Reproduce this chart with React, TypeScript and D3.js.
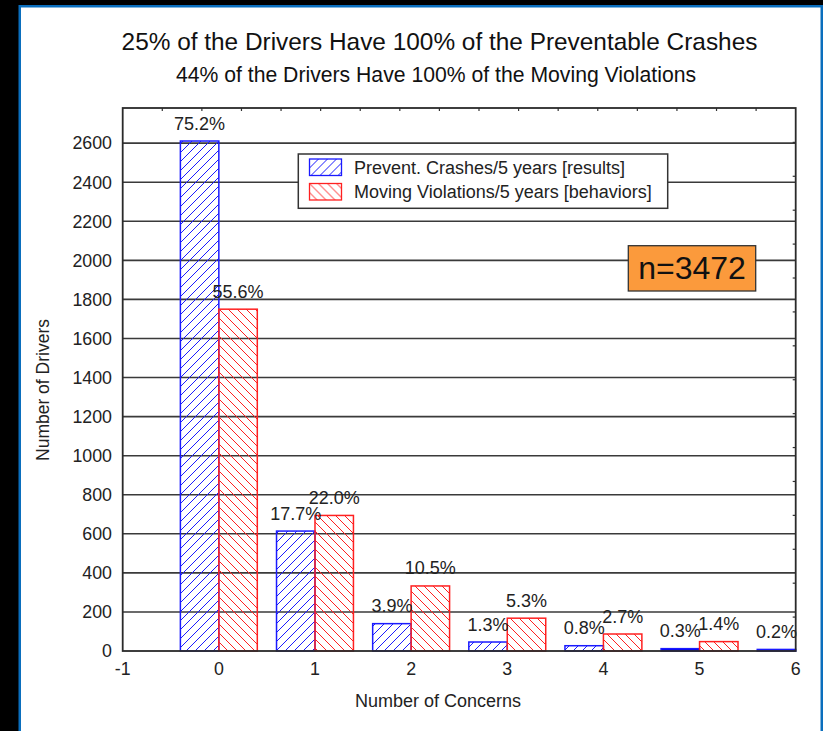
import React, { useEffect, useRef } from 'react';
import * as d3 from 'd3';

// data
const concerns = [0, 1, 2, 3, 4, 5, 6];
const crashCounts = [2611, 614, 140, 46, 27, 12, 8];
const crashPct = ['75.2%', '17.7%', '3.9%', '1.3%', '0.8%', '0.3%', '0.2%'];
const violationCounts = [1750, 694, 333, 168, 87, 48];
const violationPct = ['55.6%', '22.0%', '10.5%', '5.3%', '2.7%', '1.4%'];
const yTicks = [0, 200, 400, 600, 800, 1000, 1200, 1400, 1600, 1800, 2000, 2200, 2400, 2600];
const xTicks = [-1, 0, 1, 2, 3, 4, 5, 6];
const seriesNames = ['Prevent. Crashes/5 years [results]', 'Moving Violations/5 years [behaviors]'];
const totalDrivers = 3472;

const FONT = '"Liberation Sans", Arial, sans-serif';

const App = () => {
  const chartRef = useRef<SVGSVGElement>(null);

  useEffect(() => {
    const svg = d3.select(chartRef.current);
    svg.selectAll('*').remove();

    const W = 823;
    const H = 731;
    const left = 122.7;
    const right = 795.7;
    const top = 108;
    const bottom = 651;
    const barW = 0.4;

    // frame: black strip + blue border
    svg.append('rect').attr('width', W).attr('height', H).attr('fill', '#000');
    svg.append('rect').attr('x', 18.5).attr('y', 5).attr('width', W - 18.5).attr('height', H - 5).attr('fill', '#0a6ebd');
    svg.append('rect').attr('x', 21).attr('y', 7.5).attr('width', 799.5).attr('height', H - 7.5).attr('fill', '#fff');

    const defs = svg.append('defs');
    const hatch = (id: string, color: string, d: string) => {
      defs
        .append('pattern')
        .attr('id', id)
        .attr('patternUnits', 'userSpaceOnUse')
        .attr('width', 9)
        .attr('height', 9)
        .append('path')
        .attr('d', d)
        .attr('stroke', color)
        .attr('stroke-width', 1);
    };
    hatch('hatchBlue', '#1a1aff', 'M0,9 L9,0 M-1,1 L1,-1 M8,10 L10,8');
    hatch('hatchRed', '#ff2020', 'M0,0 L9,9 M-1,8 L1,10 M8,-1 L10,1');

    const x = d3.scaleLinear().domain([-1, 6]).range([left, right]);
    const y = d3.scaleLinear().domain([0, 2780]).range([bottom, top]);
    const pct = d3.scaleLinear().domain([0, (2780 / totalDrivers) * 100]).range([bottom, top]);
    const topScale = d3.scaleLinear().domain([0, 17]).range([left, right]);

    // titles
    svg
      .append('text')
      .attr('x', 439.5)
      .attr('y', 50)
      .attr('text-anchor', 'middle')
      .attr('font-family', FONT)
      .attr('font-size', 24.4)
      .attr('fill', '#111')
      .text('25% of the Drivers Have 100% of the Preventable Crashes');
    svg
      .append('text')
      .attr('x', 436)
      .attr('y', 81.5)
      .attr('text-anchor', 'middle')
      .attr('font-family', FONT)
      .attr('font-size', 21.2)
      .attr('fill', '#111')
      .text('44% of the Drivers Have 100% of the Moving Violations');

    // grid lines
    svg
      .append('g')
      .selectAll('line')
      .data(yTicks.filter((d) => d > 0))
      .enter()
      .append('line')
      .attr('x1', left)
      .attr('x2', right)
      .attr('y1', (d) => y(d))
      .attr('y2', (d) => y(d))
      .attr('stroke', '#3a3a3a')
      .attr('stroke-width', 1.6);

    // minor ticks on top and right edges
    svg
      .append('g')
      .selectAll('line')
      .data(d3.range(1, 17))
      .enter()
      .append('line')
      .attr('x1', (d) => topScale(d))
      .attr('x2', (d) => topScale(d))
      .attr('y1', top)
      .attr('y2', top + 3)
      .attr('stroke', '#333')
      .attr('stroke-width', 1.2);
    svg
      .append('g')
      .selectAll('line')
      .data(d3.range(5, 80, 5))
      .enter()
      .append('line')
      .attr('x1', right - 3)
      .attr('x2', right)
      .attr('y1', (d) => pct(d))
      .attr('y2', (d) => pct(d))
      .attr('stroke', '#333')
      .attr('stroke-width', 1.2);

    // bars
    const bars = svg.append('g');
    bars
      .selectAll('rect.crash')
      .data(crashCounts)
      .enter()
      .append('rect')
      .attr('class', 'crash')
      .attr('x', (_, i) => x(concerns[i] - barW))
      .attr('y', (d) => y(d))
      .attr('width', x(barW) - x(0))
      .attr('height', (d) => bottom - y(d))
      .attr('fill', (d) => (bottom - y(d) < 4 ? '#0000ee' : 'url(#hatchBlue)'))
      .attr('stroke', '#1a1aff')
      .attr('stroke-width', 1.5);
    bars
      .selectAll('rect.viol')
      .data(violationCounts)
      .enter()
      .append('rect')
      .attr('class', 'viol')
      .attr('x', (_, i) => x(concerns[i]))
      .attr('y', (d) => y(d))
      .attr('width', x(barW) - x(0))
      .attr('height', (d) => bottom - y(d))
      .attr('fill', 'url(#hatchRed)')
      .attr('stroke', '#ff2020')
      .attr('stroke-width', 1.5);

    // plot frame
    svg
      .append('rect')
      .attr('x', left)
      .attr('y', top)
      .attr('width', right - left)
      .attr('height', bottom - top)
      .attr('fill', 'none')
      .attr('stroke', '#2a2a2a')
      .attr('stroke-width', 1.8);

    // percent labels
    const labels = svg.append('g').attr('font-family', FONT).attr('font-size', 18).attr('fill', '#222').attr('text-anchor', 'middle');
    labels
      .selectAll('text.c')
      .data(crashCounts)
      .enter()
      .append('text')
      .attr('x', (_, i) => x(concerns[i] - barW / 2))
      .attr('y', (d) => y(d) - 11.5)
      .text((_, i) => crashPct[i]);
    labels
      .selectAll('text.v')
      .data(violationCounts)
      .enter()
      .append('text')
      .attr('x', (_, i) => x(concerns[i] + barW / 2))
      .attr('y', (d) => y(d) - 11.5)
      .text((_, i) => violationPct[i]);

    // axis labels
    const axisText = svg.append('g').attr('font-family', FONT).attr('font-size', 17.8).attr('fill', '#222');
    axisText
      .selectAll('text.y')
      .data(yTicks)
      .enter()
      .append('text')
      .attr('x', 112)
      .attr('y', (d) => y(d) + 6.3)
      .attr('text-anchor', 'end')
      .text((d) => d);
    axisText
      .selectAll('text.x')
      .data(xTicks)
      .enter()
      .append('text')
      .attr('x', (d) => x(d))
      .attr('y', 675)
      .attr('text-anchor', 'middle')
      .text((d) => d);
    axisText
      .append('text')
      .attr('x', 438)
      .attr('y', 706.5)
      .attr('text-anchor', 'middle')
      .attr('font-size', 18)
      .text('Number of Concerns');
    axisText
      .append('text')
      .attr('transform', 'translate(49,390) rotate(-90)')
      .attr('text-anchor', 'middle')
      .attr('font-size', 17.5)
      .text('Number of Drivers');

    // legend
    const legend = svg.append('g');
    legend
      .append('rect')
      .attr('x', 298.3)
      .attr('y', 154)
      .attr('width', 369.4)
      .attr('height', 54.3)
      .attr('fill', '#fff')
      .attr('stroke', '#333')
      .attr('stroke-width', 1.5);
    const items = legend
      .selectAll('g.item')
      .data(seriesNames)
      .enter()
      .append('g')
      .attr('transform', (_, i) => `translate(309.5,${159 + i * 24.5})`);
    items
      .append('rect')
      .attr('width', 32)
      .attr('height', 16.5)
      .attr('fill', (_, i) => (i === 0 ? 'url(#hatchBlue)' : 'url(#hatchRed)'))
      .attr('stroke', (_, i) => (i === 0 ? '#1a1aff' : '#ff2020'))
      .attr('stroke-width', 1.3);
    items
      .append('text')
      .attr('x', 44.5)
      .attr('y', 14.5)
      .attr('font-family', FONT)
      .attr('font-size', 18)
      .attr('fill', '#222')
      .text((d) => d);

    // n box
    svg
      .append('rect')
      .attr('x', 628.3)
      .attr('y', 245.7)
      .attr('width', 127.4)
      .attr('height', 45.3)
      .attr('fill', '#fb9a3c')
      .attr('stroke', '#333')
      .attr('stroke-width', 1.3);
    svg
      .append('text')
      .attr('x', 692)
      .attr('y', 278.5)
      .attr('text-anchor', 'middle')
      .attr('font-family', FONT)
      .attr('font-size', 32)
      .attr('fill', '#111')
      .text(`n=${totalDrivers}`);
  }, []);

  return (
    <>
      <style>{`body{margin:0}`}</style>
      <svg ref={chartRef} width={823} height={731} style={{ display: 'block' }}></svg>
    </>
  );
};

export default App;
